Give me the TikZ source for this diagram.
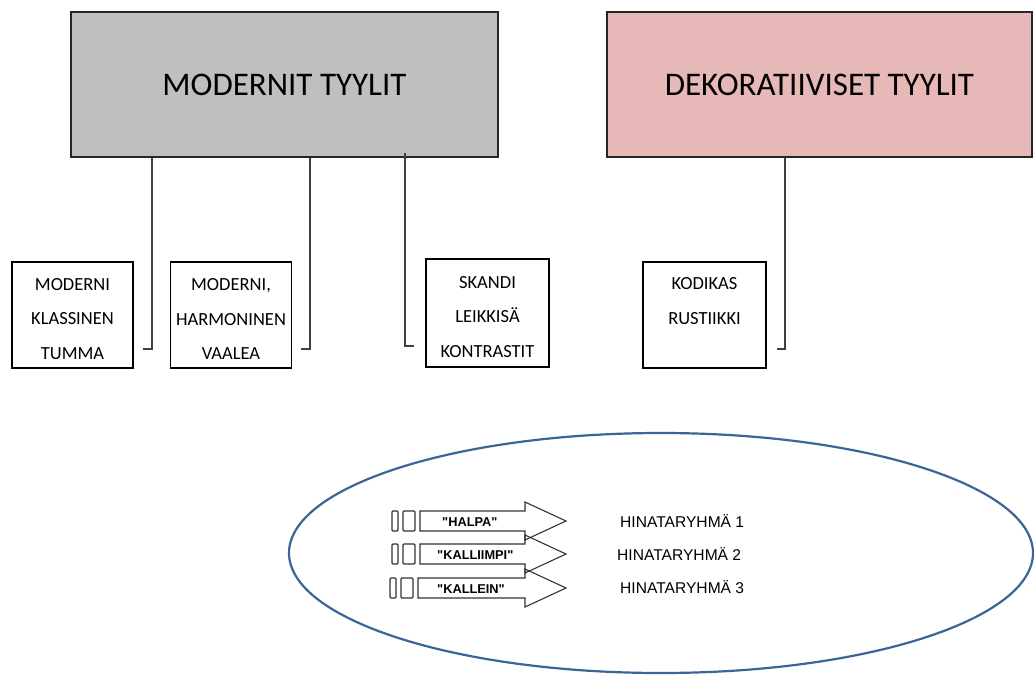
\documentclass[tikz,border=0pt]{standalone}
\usepackage{fontspec}
\setmainfont{Carlito}
\newfontfamily\arialfont{Liberation Sans}
\begin{document}
\begin{tikzpicture}[x=1pt,y=-1pt,
  bigbox/.style={draw=black!85,line width=1.4pt,minimum width=427pt,minimum height=145pt,inner sep=0pt,font=\fontsize{33}{38}\selectfont},
  smallbox/.style={draw=black,line width=1.6pt,minimum width=121pt,minimum height=106pt,inner sep=0pt},
  boxtext/.style={inner sep=0pt,align=center,font=\fontsize{18.5}{34.5}\selectfont},
  conn/.style={draw=black!75,line width=1.8pt},
  tagbox/.style={draw=black!80,line width=1.1pt,rounded corners=1pt},
  blockarrow/.style={draw=black!80,line width=1.1pt},
  arrowtext/.style={anchor=west,inner sep=0pt,font=\arialfont\bfseries\fontsize{12.8}{14}\selectfont},
  grouptext/.style={anchor=west,inner sep=0pt,font=\arialfont\fontsize{15.6}{18}\selectfont}
]
\useasboundingbox (0,0) rectangle (1034,675);

% main style categories
\node[bigbox,fill={rgb,255:red,191;green,191;blue,191}] (modern) at (284.5,84.5) {MODERNIT TYYLIT};
\node[bigbox,minimum width=425pt,fill={rgb,255:red,230;green,185;blue,184}] (deco) at (819.5,84.5) {DEKORATIIVISET TYYLIT};

% sub-style boxes
\node[smallbox] (klassinen) at (72.5,315) {};
\node[smallbox] (harmoninen) at (231,315) {};
\node[smallbox,minimum width=123pt,minimum height=108pt] (skandi) at (487.5,313) {};
\node[smallbox,minimum width=123pt] (kodikas) at (704.5,315) {};
\node[boxtext] (tklassinen) at (72.5,319) {MODERNI\\KLASSINEN\\TUMMA};
\node[boxtext] (tharmoninen) at (231,319) {MODERNI,\\HARMONINEN\\VAALEA};
\node[boxtext] (tskandi) at (487.5,317) {SKANDI\\LEIKKISÄ\\KONTRASTIT};
\node[boxtext] (tkodikas) at (704.5,301) {KODIKAS\\RUSTIIKKI};

% bracket connectors
\coordinate (k1) at (143,349);
\coordinate (k2) at (301,349);
\coordinate (k3) at (414,346);
\coordinate (k4) at (777,349);
\draw[conn] ([xshift=82pt]modern.south west) |- (k1);
\draw[conn] ([xshift=240pt]modern.south west) |- (k2);
\draw[conn] ([xshift=335pt,yshift=5pt]modern.south west) |- (k3);
\draw[conn] ([xshift=179pt]deco.south west) |- (k4);

% price group ellipse
\draw[draw={rgb,255:red,58;green,101;blue,150},line width=2.2pt] (661,553) ellipse [x radius=372, y radius=120];

% price group arrows
\foreach \c/\dx/\name/\txt/\tx in {521/0/halpa/"HALPA"/442, 554/0/kalliimpi/"KALLIIMPI"/437, 588/-2/kallein/"KALLEIN"/437}{
  \draw[tagbox] (392+\dx,\c-10) rectangle (398+\dx,\c+10);
  \draw[tagbox] (403+\dx,\c-10) rectangle (415+\dx,\c+10);
  \draw[blockarrow] (420+\dx,\c-10) -- (525,\c-10) -- (525,\c-19) -- (566,\c) -- (525,\c+19) -- (525,\c+10) -- (420+\dx,\c+10) -- cycle;
  \node[arrowtext] (\name) at (\tx,\c+1) {\txt};
}
\node[grouptext] (g1) at (620,521) {HINATARYHMÄ 1};
\node[grouptext] (g2) at (617,554) {HINATARYHMÄ 2};
\node[grouptext] (g3) at (620,587) {HINATARYHMÄ 3};
\end{tikzpicture}
\end{document}
